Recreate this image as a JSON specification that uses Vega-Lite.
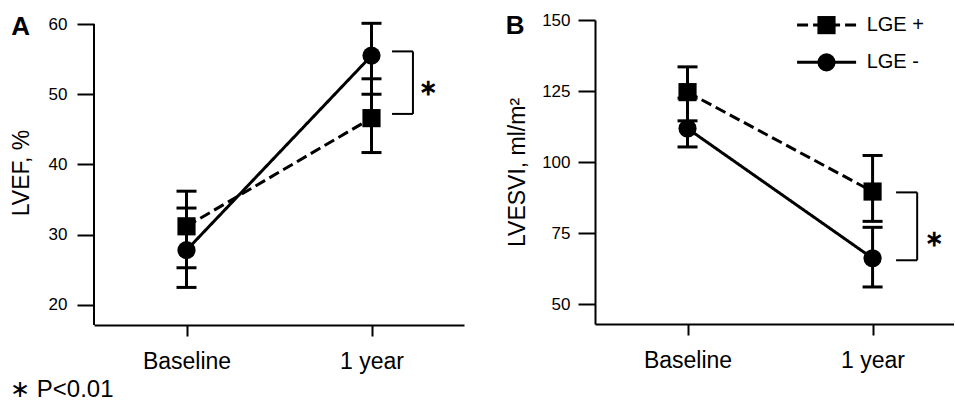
{
  "$schema": "https://vega.github.io/schema/vega-lite/v6.json",
  "padding": {"left": 10, "top": 11, "right": 0, "bottom": 0},
  "datasets": {
    "lvef": [
      {"t": 0, "g": "LGE +", "m": 31.2, "lo": 25.3, "hi": 36.2},
      {"t": 1, "g": "LGE +", "m": 46.6, "lo": 41.7, "hi": 52.2},
      {"t": 0, "g": "LGE -", "m": 27.8, "lo": 22.5, "hi": 33.8},
      {"t": 1, "g": "LGE -", "m": 55.5, "lo": 50.0, "hi": 60.1}
    ],
    "lvesvi": [
      {"t": 0, "g": "LGE +", "m": 124.6, "lo": 114.5, "hi": 133.5},
      {"t": 1, "g": "LGE +", "m": 89.6, "lo": 79.1, "hi": 102.3},
      {"t": 0, "g": "LGE -", "m": 111.8, "lo": 105.3, "hi": 122.5},
      {"t": 1, "g": "LGE -", "m": 66.1, "lo": 56.0, "hi": 77.0}
    ]
  },
  "title": {"text": "∗ P<0.01", "orient": "bottom", "anchor": "start", "fontSize": 24, "fontWeight": "normal", "font": "Liberation Sans", "color": "black", "offset": 5},
  "bounds": "flush",
  "spacing": 131,
  "hconcat": [
    {
      "width": 370,
      "height": 305,
      "data": {"name": "lvef"},
      "layer": [
        {
          "mark": {"type": "line", "color": "black", "strokeWidth": 3},
          "encoding": {
            "x": {"field": "t", "type": "quantitative", "scale": {"domain": [-0.5, 1.5], "nice": false, "zero": false},
                  "axis": {"values": [0, 1], "labelExpr": "datum.value == 0 ? 'Baseline' : '1 year'", "title": null, "tickSize": 11, "labelFontSize": 23, "labelPadding": 14}},
            "y": {"field": "m", "type": "quantitative", "scale": {"domain": [17.15, 60.57], "nice": false, "zero": false},
                  "axis": {"values": [20, 30, 40, 50, 60], "domain": false, "title": "LVEF, %", "titleFontSize": 23, "titlePadding": 15, "tickSize": 17, "labelFontSize": 17, "labelPadding": 10}},
            "strokeDash": {"field": "g", "type": "nominal", "scale": {"domain": ["LGE +", "LGE -"], "range": [[11, 5], [1, 0]]}, "legend": null}
          }
        },
        {
          "data": {"values": [{}]},
          "mark": {"type": "rule", "color": "black", "strokeWidth": 2},
          "encoding": {"x": {"datum": -0.5, "type": "quantitative"}, "y": {"datum": 17.15, "type": "quantitative"}, "y2": {"datum": 60}}
        },
        {
          "mark": {"type": "rule", "color": "black", "strokeWidth": 3},
          "encoding": {
            "x": {"field": "t", "type": "quantitative"},
            "y": {"field": "lo", "type": "quantitative"},
            "y2": {"field": "hi"}
          }
        },
        {
          "mark": {"type": "tick", "orient": "horizontal", "color": "black", "size": 20, "thickness": 3, "opacity": 1},
          "encoding": {"x": {"field": "t", "type": "quantitative"}, "y": {"field": "lo", "type": "quantitative"}}
        },
        {
          "mark": {"type": "tick", "orient": "horizontal", "color": "black", "size": 20, "thickness": 3, "opacity": 1},
          "encoding": {"x": {"field": "t", "type": "quantitative"}, "y": {"field": "hi", "type": "quantitative"}}
        },
        {
          "mark": {"type": "point", "filled": true, "color": "black", "opacity": 1, "size": 330},
          "encoding": {
            "x": {"field": "t", "type": "quantitative"},
            "y": {"field": "m", "type": "quantitative"},
            "shape": {"field": "g", "type": "nominal", "scale": {"domain": ["LGE +", "LGE -"], "range": ["square", "circle"]}, "legend": null}
          }
        },
        {
          "data": {"values": [{"label": "A"}]},
          "mark": {"type": "text", "fontSize": 26, "fontWeight": "bold", "color": "black", "align": "center", "baseline": "middle"},
          "encoding": {"x": {"datum": -0.897, "type": "quantitative"}, "y": {"datum": 59.64, "type": "quantitative"}, "text": {"field": "label"}}
        },
        {
          "data": {"values": [{"label": "∗"}]},
          "mark": {"type": "text", "fontSize": 22, "fontWeight": "bold", "color": "black", "align": "center", "baseline": "middle"},
          "encoding": {"x": {"datum": 1.305, "type": "quantitative"}, "y": {"datum": 50.9, "type": "quantitative"}, "text": {"field": "label"}}
        },
        {
          "data": {"values": [{}]},
          "mark": {"type": "rule", "color": "black", "strokeWidth": 2},
          "encoding": {"x": {"datum": 1.111, "type": "quantitative"}, "x2": {"datum": 1.224}, "y": {"datum": 56.1, "type": "quantitative"}}
        },
        {
          "data": {"values": [{}]},
          "mark": {"type": "rule", "color": "black", "strokeWidth": 2},
          "encoding": {"x": {"datum": 1.111, "type": "quantitative"}, "x2": {"datum": 1.224}, "y": {"datum": 47.2, "type": "quantitative"}}
        },
        {
          "data": {"values": [{}]},
          "mark": {"type": "rule", "color": "black", "strokeWidth": 2},
          "encoding": {"x": {"datum": 1.224, "type": "quantitative"}, "y": {"datum": 47.2, "type": "quantitative"}, "y2": {"datum": 56.1}}
        }
      ]
    },
    {
      "width": 359,
      "height": 304,
      "data": {"name": "lvesvi"},
      "layer": [
        {
          "mark": {"type": "line", "color": "black", "strokeWidth": 3},
          "encoding": {
            "x": {"field": "t", "type": "quantitative", "scale": {"domain": [-0.5, 1.44], "nice": false, "zero": false},
                  "axis": {"values": [0, 1], "labelExpr": "datum.value == 0 ? 'Baseline' : '1 year'", "title": null, "tickSize": 11, "labelFontSize": 23, "labelPadding": 14}},
            "y": {"field": "m", "type": "quantitative", "scale": {"domain": [42.96, 150], "nice": false, "zero": false},
                  "axis": {"values": [50, 75, 100, 125, 150], "title": "LVESVI, ml/m²", "titleFontSize": 23, "titlePadding": 12, "tickSize": 17, "labelFontSize": 17, "labelPadding": 8}},
            "strokeDash": {"field": "g", "type": "nominal", "scale": {"domain": ["LGE +", "LGE -"], "range": [[11, 5], [1, 0]]}, "legend": null}
          }
        },
        {
          "mark": {"type": "rule", "color": "black", "strokeWidth": 3},
          "encoding": {
            "x": {"field": "t", "type": "quantitative"},
            "y": {"field": "lo", "type": "quantitative"},
            "y2": {"field": "hi"}
          }
        },
        {
          "mark": {"type": "tick", "orient": "horizontal", "color": "black", "size": 20, "thickness": 3, "opacity": 1},
          "encoding": {"x": {"field": "t", "type": "quantitative"}, "y": {"field": "lo", "type": "quantitative"}}
        },
        {
          "mark": {"type": "tick", "orient": "horizontal", "color": "black", "size": 20, "thickness": 3, "opacity": 1},
          "encoding": {"x": {"field": "t", "type": "quantitative"}, "y": {"field": "hi", "type": "quantitative"}}
        },
        {
          "mark": {"type": "point", "filled": true, "color": "black", "opacity": 1, "size": 330},
          "encoding": {
            "x": {"field": "t", "type": "quantitative"},
            "y": {"field": "m", "type": "quantitative"},
            "shape": {"field": "g", "type": "nominal", "scale": {"domain": ["LGE +", "LGE -"], "range": ["square", "circle"]}, "legend": null}
          }
        },
        {
          "data": {"values": [{"g": "LGE +"}]},
          "mark": {"type": "rule", "color": "black", "strokeWidth": 3, "strokeDash": [11, 5]},
          "encoding": {"x": {"datum": 0.592, "type": "quantitative"}, "x2": {"datum": 0.911}, "y": {"datum": 148.2, "type": "quantitative"}}
        },
        {
          "data": {"values": [{"g": "LGE +"}]},
          "mark": {"type": "point", "shape": "square", "filled": true, "color": "black", "opacity": 1, "size": 330},
          "encoding": {"x": {"datum": 0.751, "type": "quantitative"}, "y": {"datum": 148.2, "type": "quantitative"}}
        },
        {
          "data": {"values": [{"g": "LGE +"}]},
          "mark": {"type": "text", "fontSize": 20, "color": "black", "align": "left", "baseline": "middle"},
          "encoding": {"x": {"datum": 0.968, "type": "quantitative"}, "y": {"datum": 148.2, "type": "quantitative"}, "text": {"field": "g"}}
        },
        {
          "data": {"values": [{"g": "LGE -"}]},
          "mark": {"type": "rule", "color": "black", "strokeWidth": 3},
          "encoding": {"x": {"datum": 0.592, "type": "quantitative"}, "x2": {"datum": 0.911}, "y": {"datum": 135.1, "type": "quantitative"}}
        },
        {
          "data": {"values": [{"g": "LGE -"}]},
          "mark": {"type": "point", "shape": "circle", "filled": true, "color": "black", "opacity": 1, "size": 330},
          "encoding": {"x": {"datum": 0.751, "type": "quantitative"}, "y": {"datum": 135.1, "type": "quantitative"}}
        },
        {
          "data": {"values": [{"g": "LGE -"}]},
          "mark": {"type": "text", "fontSize": 20, "color": "black", "align": "left", "baseline": "middle"},
          "encoding": {"x": {"datum": 0.968, "type": "quantitative"}, "y": {"datum": 135.1, "type": "quantitative"}, "text": {"field": "g"}}
        },
        {
          "data": {"values": [{"label": "B"}]},
          "mark": {"type": "text", "fontSize": 26, "fontWeight": "bold", "color": "black", "align": "center", "baseline": "middle"},
          "encoding": {"x": {"datum": -0.932, "type": "quantitative"}, "y": {"datum": 147.9, "type": "quantitative"}, "text": {"field": "label"}}
        },
        {
          "data": {"values": [{"label": "∗"}]},
          "mark": {"type": "text", "fontSize": 22, "fontWeight": "bold", "color": "black", "align": "center", "baseline": "middle"},
          "encoding": {"x": {"datum": 1.332, "type": "quantitative"}, "y": {"datum": 72.8, "type": "quantitative"}, "text": {"field": "label"}}
        },
        {
          "data": {"values": [{}]},
          "mark": {"type": "rule", "color": "black", "strokeWidth": 2},
          "encoding": {"x": {"datum": 1.127, "type": "quantitative"}, "x2": {"datum": 1.241}, "y": {"datum": 89.3, "type": "quantitative"}}
        },
        {
          "data": {"values": [{}]},
          "mark": {"type": "rule", "color": "black", "strokeWidth": 2},
          "encoding": {"x": {"datum": 1.127, "type": "quantitative"}, "x2": {"datum": 1.241}, "y": {"datum": 65.4, "type": "quantitative"}}
        },
        {
          "data": {"values": [{}]},
          "mark": {"type": "rule", "color": "black", "strokeWidth": 2},
          "encoding": {"x": {"datum": 1.241, "type": "quantitative"}, "y": {"datum": 65.4, "type": "quantitative"}, "y2": {"datum": 89.3}}
        }
      ]
    }
  ],
  "config": {
    "view": {"stroke": null},
    "font": "Liberation Sans",
    "axis": {"domainColor": "black", "domainWidth": 2, "tickColor": "black", "tickWidth": 2, "labelColor": "black", "titleColor": "black", "grid": false, "labelFont": "Liberation Sans", "titleFont": "Liberation Sans", "titleFontWeight": "normal", "labelFlush": false, "labelOverlap": false}
  }
}
